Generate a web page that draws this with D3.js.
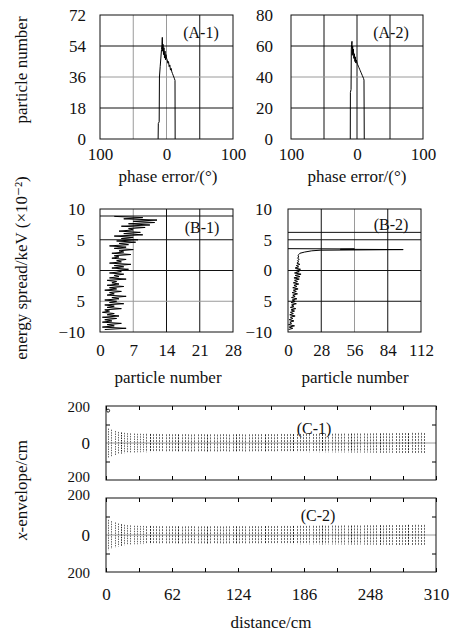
<!DOCTYPE html>
<html>
<head>
<meta charset="utf-8">
<script src="https://cdn.jsdelivr.net/npm/d3@7"></script>
<style>
  body { margin: 0; background: #fff; }
  svg, svg text { font-family: "Liberation Serif", "Times New Roman", "DejaVu Serif", serif; }
  svg text { fill: #111; }
</style>
</head>
<body>
<div id="chart"></div>
<script>
// ---- data ----
// (A) phase histograms
var a1Phase = [-12.6, -12.3, -11, -10.6, -9.5, -8.5, -7.5, -6.8, -6.3, -5.8, -5.2, -4.5, -3.8, -3, -2.2, -1.5, -0.8, 0, 1, 2, 3, 4, 5, 6, 7, 8, 9, 10, 11, 12, 12.8, 13];
var a1Count = [0, 9, 10, 36, 42, 47, 52, 55, 59, 51, 55, 49, 53, 47, 51, 46, 49, 47, 46, 44, 45, 42, 43, 40, 41, 39, 38, 37, 36, 35, 34, 0];
var a2Phase = [-10.2, -10, -9, -8.6, -8.2, -7.6, -7.2, -6.6, -6, -5.4, -4.8, -4, -3.2, -2.5, -1.8, -1, 0, 1, 2, 3, 4, 5, 6, 7, 8, 9, 10, 10.6, 11];
var a2Count = [0, 30, 32, 58, 61, 63, 54, 60, 55, 58, 52, 55, 50, 53, 49, 51, 49, 48, 47, 46, 45, 44, 43, 42, 41, 40, 39, 38, 0];

// (B) energy histograms
var b1Energy = [-9.6, -9.4, -9.2, -9.0, -8.8, -8.6, -8.4, -8.2, -8.0, -7.8,
  -7.6, -7.4, -7.2, -7.0, -6.8, -6.6, -6.4, -6.2, -6.0, -5.8,
  -5.6, -5.4, -5.2, -5.0, -4.8, -4.6, -4.4, -4.2, -4.0, -3.8,
  -3.6, -3.4, -3.2, -3.0, -2.8, -2.6, -2.4, -2.2, -2.0, -1.8,
  -1.6, -1.4, -1.2, -1.0, -0.8, -0.6, -0.4, -0.2, 0.0, 0.2,
  0.4, 0.6, 0.8, 1.0, 1.2, 1.4, 1.6, 1.8, 2.0, 2.2,
  2.4, 2.6, 2.8, 3.0, 3.2, 3.4, 3.6, 3.8, 4.0, 4.2,
  4.4, 4.6, 4.8, 5.0, 5.2, 5.4, 5.6, 5.8, 6.0, 6.2,
  6.4, 6.6, 6.8, 7.0, 7.2, 7.4, 7.6, 7.8, 8.0, 8.2,
  8.4, 8.6, 8.8];
var b1Count = [1, 5.5, 0.5, 3, 1.5, 4.5, 0.5, 2.5, 1, 3.5,
  0.5, 4, 1.5, 3, 0.5, 2, 1, 4.5, 1.5, 3,
  1, 5, 2, 3.5, 1, 4, 2.5, 5.5, 1.5, 3,
  2, 4.5, 1, 3.5, 2, 5, 1.5, 4, 2.5, 3.5,
  1.5, 5.5, 2, 4, 3, 5, 2, 4.5, 3.5, 6,
  2.5, 5, 3, 6.5, 2, 4.5, 3.5, 5.5, 2.5, 4,
  3, 6.5, 2.5, 5, 4, 7, 3, 5.5, 2, 6,
  4, 7.5, 3.5, 8, 4.5, 7, 3, 9, 5, 8.5,
  4, 7, 6, 9.5, 4.5, 10.5, 6, 11.5, 7, 12,
  5, 9, 3];
var b2Energy = [-9.6, -9.4, -9.2, -9.0, -8.8, -8.6, -8.4, -8.2, -8.0, -7.8,
  -7.6, -7.4, -7.2, -7.0, -6.8, -6.6, -6.4, -6.2, -6.0, -5.8,
  -5.6, -5.4, -5.2, -5.0, -4.8, -4.6, -4.4, -4.2, -4.0, -3.8,
  -3.6, -3.4, -3.2, -3.0, -2.8, -2.6, -2.4, -2.2, -2.0, -1.8,
  -1.6, -1.4, -1.2, -1.0, -0.8, -0.6, -0.4, -0.2, 0.0, 0.2,
  0.4, 0.6, 0.8, 1.0, 1.2, 1.4, 1.6, 1.8, 2.0, 2.2,
  2.4, 2.6, 2.8, 3.0, 3.2, 3.3, 3.4, 3.45, 3.5, 3.55];
var b2Count = [0.5, 4, 1, 5.5, 0.5, 3, 1.5, 5, 1, 4,
  2, 6, 1.5, 4.5, 2, 5.5, 2.5, 6.5, 2, 5,
  3, 7, 2.5, 6, 3.5, 7.5, 3, 6, 4, 8,
  3.5, 7, 4.5, 8.5, 4, 7.5, 5, 9, 4.5, 8,
  5.5, 9.5, 5, 10, 6, 11, 5.5, 9.5, 6.5, 10.5,
  6, 9, 7, 10, 7.5, 9, 8, 9.5, 8, 9,
  8.5, 9, 10, 14, 20, 27, 97, 44, 56, 0];
var b1Mark = [8.86];
var b2Mark = [6.2];

// (C) x-envelope along the line
var cDist = [2, 5, 8, 11, 14, 17, 20, 23, 26, 29, 32, 35, 38, 41, 44, 47, 50, 53, 56, 59,
  62, 65, 68, 71, 74, 77, 80, 83, 86, 89, 92, 95, 98, 101, 104, 107, 110, 113, 116, 119,
  122, 125, 128, 131, 134, 137, 140, 143, 146, 149, 152, 155, 158, 161, 164, 167, 170, 173, 176, 179,
  182, 185, 188, 191, 194, 197, 200, 203, 206, 209, 212, 215, 218, 221, 224, 227, 230, 233, 236, 239,
  242, 245, 248, 251, 254, 257, 260, 263, 266, 269, 272, 275, 278, 281, 284, 287, 290, 293, 296, 299];
var c1Env = [78, 72, 65, 60, 57, 55, 53, 52, 51, 50, 50, 49, 50, 49, 48, 49, 48, 48, 47, 48,
  47, 48, 47, 47, 48, 47, 46, 47, 47, 48, 47, 46, 47, 47, 46, 47, 48, 47, 46, 47,
  47, 48, 47, 46, 47, 47, 48, 47, 48, 47, 48, 48, 47, 48, 49, 48, 48, 49, 48, 49,
  49, 48, 49, 50, 49, 49, 50, 49, 50, 50, 50, 51, 50, 50, 51, 50, 51, 51, 52, 51,
  52, 51, 52, 52, 53, 52, 53, 53, 52, 53, 54, 53, 54, 54, 53, 55, 54, 55, 55, 54];
var c2Env = [82, 75, 68, 62, 58, 55, 53, 52, 50, 50, 49, 49, 48, 49, 48, 48, 47, 48, 47, 47,
  48, 47, 47, 46, 47, 47, 48, 47, 46, 47, 47, 46, 47, 48, 47, 47, 46, 47, 47, 48,
  47, 47, 48, 47, 47, 48, 48, 47, 48, 48, 49, 48, 48, 49, 48, 49, 49, 48, 49, 49,
  50, 49, 49, 50, 50, 49, 50, 51, 50, 50, 51, 51, 50, 51, 52, 51, 51, 52, 52, 51,
  52, 53, 52, 52, 53, 53, 52, 53, 54, 53, 54, 54, 53, 54, 55, 54, 55, 55, 54, 55];
var c1MarkDist = [2];
var c1MarkVal = [175];

// tick labels (as printed, minus signs mostly dropped)
var aXTicks = [-100, 0, 100];
var aXLabels = ["100", "0", "100"];
var a1YTicks = [0, 18, 36, 54, 72];
var a2YTicks = [0, 20, 40, 60, 80];
var bYTicks = [10, 5, 0, -5, -10];
var bYLabels = ["10", "5", "0", "5", "\u221210"];
var b1XTicks = [0, 7, 14, 21, 28];
var b2XTicks = [0, 28, 56, 84, 112];
var cYTicks = [200, 0, -200];
var cYLabels = ["200", "0", "200"];
var cXTicks = [0, 62, 124, 186, 248, 310];
var cXMinor = [0, 31, 62, 93, 124, 155, 186, 217, 248, 279, 310];

// ---- drawing ----
var W = 454, H = 633;
var FONT = '"Liberation Serif", "Times New Roman", "DejaVu Serif", serif';
var svg = d3.select("#chart").append("svg")
  .attr("width", W)
  .attr("height", H)
  .style("font-family", FONT);

var DARK = "#111", GRAY = "#9a9a9a";

function makePanel(box, xDom, yDom) {
  var x = d3.scaleLinear().domain(xDom).range([box.x0, box.x1]);
  var y = d3.scaleLinear().domain(yDom).range([box.y1, box.y0]);
  var g = svg.append("g");
  return { x: x, y: y, g: g, box: box };
}

function grid(p, xs, xCols, ys, yCols) {
  xs.forEach(function(v, i) {
    p.g.append("line")
      .attr("x1", p.x(v)).attr("x2", p.x(v))
      .attr("y1", p.box.y0).attr("y2", p.box.y1)
      .attr("stroke", xCols[i]).attr("stroke-width", 1);
  });
  ys.forEach(function(v, i) {
    p.g.append("line")
      .attr("x1", p.box.x0).attr("x2", p.box.x1)
      .attr("y1", p.y(v)).attr("y2", p.y(v))
      .attr("stroke", yCols[i]).attr("stroke-width", 1);
  });
}

function frame(p) {
  p.g.append("rect")
    .attr("x", p.box.x0).attr("y", p.box.y0)
    .attr("width", p.box.x1 - p.box.x0)
    .attr("height", p.box.y1 - p.box.y0)
    .attr("fill", "none").attr("stroke", DARK).attr("stroke-width", 1);
}

function styleAxis(sel, size) {
  sel.select(".domain").remove();
  sel.attr("font-family", FONT).attr("font-size", size);
  sel.selectAll("text").style("font-family", FONT).style("font-size", size + "px");
}

function yLabels(p, ticks, labels, pad) {
  var ax = p.g.append("g")
    .attr("transform", "translate(" + p.box.x0 + ",0)")
    .call(d3.axisLeft(p.y).tickValues(ticks)
      .tickFormat(function(d, i) { return labels[i]; })
      .tickSize(0).tickPadding(pad));
  styleAxis(ax, 17);
  return ax;
}

function xLabels(p, ticks, labels, pad) {
  var ax = p.g.append("g")
    .attr("transform", "translate(0," + p.box.y1 + ")")
    .call(d3.axisBottom(p.x).tickValues(ticks)
      .tickFormat(function(d, i) { return labels[i]; })
      .tickSize(0).tickPadding(pad));
  styleAxis(ax, 17);
}

function tag(p, txt, cx, cy) {
  p.g.append("text")
    .attr("x", cx).attr("y", cy)
    .attr("text-anchor", "middle")
    .style("font-size", "16px")
    .text(txt);
}

function histLine(p, xs, ys, horizontal) {
  var pts = xs.map(function(v, i) { return [v, ys[i]]; });
  var line = d3.line()
    .x(function(d) { return horizontal ? p.x(d[1]) : p.x(d[0]); })
    .y(function(d) { return horizontal ? p.y(d[0]) : p.y(d[1]); });
  p.g.append("path")
    .datum(pts)
    .attr("fill", "none")
    .attr("stroke", "#000")
    .attr("stroke-width", 1)
    .attr("d", line);
}

// A-1
var pA1 = makePanel({ x0: 100, x1: 233, y0: 15, y1: 139 }, [-100, 100], [0, 72]);
grid(pA1, [-50, 0, 50], [GRAY, GRAY, DARK], [18, 36, 54], [DARK, GRAY, DARK]);
histLine(pA1, a1Phase, a1Count, false);
frame(pA1);
yLabels(pA1, a1YTicks, a1YTicks.map(String), 14);
xLabels(pA1, aXTicks, aXLabels, 9);
tag(pA1, "(A-1)", 201, 38);

// A-2
var pA2 = makePanel({ x0: 291, x1: 423, y0: 15, y1: 139 }, [-100, 100], [0, 80]);
grid(pA2, [-50, 0, 50], [DARK, DARK, DARK], [20, 40, 60], [DARK, GRAY, DARK]);
histLine(pA2, a2Phase, a2Count, false);
frame(pA2);
yLabels(pA2, a2YTicks, a2YTicks.map(String), 18);
xLabels(pA2, aXTicks, aXLabels, 9);
tag(pA2, "(A-2)", 391, 38);

// B-1
var pB1 = makePanel({ x0: 100, x1: 233, y0: 209, y1: 332 }, [0, 28], [-10, 10]);
grid(pB1, [7, 14, 21], [GRAY, DARK, DARK], [5, 0, -5], [DARK, DARK, GRAY]);
grid(pB1, [], [], b1Mark, [DARK]);
histLine(pB1, b1Energy, b1Count, true);
frame(pB1);
yLabels(pB1, bYTicks, bYLabels, 15);
xLabels(pB1, b1XTicks, b1XTicks.map(String), 12);
tag(pB1, "(B-1)", 202, 233);

// B-2
var pB2 = makePanel({ x0: 288, x1: 421, y0: 209, y1: 332 }, [0, 112], [-10, 10]);
grid(pB2, [28, 56, 84], [DARK, GRAY, DARK], [5, 0, -5], [DARK, DARK, DARK]);
grid(pB2, [], [], b2Mark, [DARK]);
histLine(pB2, b2Energy, b2Count, true);
frame(pB2);
yLabels(pB2, bYTicks, bYLabels, 16);
xLabels(pB2, b2XTicks, b2XTicks.map(String), 12);
tag(pB2, "(B-2)", 391, 230);

// C panels
function envPanel(box, env) {
  var p = makePanel(box, [0, 310], [-200, 200]);
  // zero line
  p.g.append("line")
    .attr("x1", p.box.x0).attr("x2", p.box.x1)
    .attr("y1", p.y(0)).attr("y2", p.y(0))
    .attr("stroke", GRAY).attr("stroke-width", 1);
  // envelope bars
  p.g.selectAll("line.env")
    .data(cDist)
    .enter().append("line")
    .attr("class", "env")
    .attr("x1", function(d) { return Math.round(p.x(d)) + 0.5; })
    .attr("x2", function(d) { return Math.round(p.x(d)) + 0.5; })
    .attr("y1", function(d, i) { return p.y(env[i]); })
    .attr("y2", function(d, i) { return p.y(-env[i]); })
    .attr("stroke", function(d, i) { return i % 9 === 4 ? "#222" : "#666"; })
    .attr("stroke-width", 1)
    .attr("stroke-dasharray", function(d, i) { return i < 12 ? "1.5,1" : "2,1"; });
  // inner ticks
  var top = p.g.append("g").attr("transform", "translate(0," + p.box.y0 + ")")
    .call(d3.axisTop(p.x).tickValues(cXMinor).tickSize(-4).tickFormat(""));
  var bot = p.g.append("g").attr("transform", "translate(0," + p.box.y1 + ")")
    .call(d3.axisBottom(p.x).tickValues(cXMinor).tickSize(-4).tickFormat(""));
  var lft = p.g.append("g").attr("transform", "translate(" + p.box.x0 + ",0)")
    .call(d3.axisLeft(p.y).tickValues([100, -100]).tickSize(-4).tickFormat(""));
  var rgt = p.g.append("g").attr("transform", "translate(" + p.box.x1 + ",0)")
    .call(d3.axisRight(p.y).tickValues([100, -100]).tickSize(-4).tickFormat(""));
  [top, bot, lft, rgt].forEach(function(a) { a.select(".domain").remove(); });
  frame(p);
  return p;
}

function edgeLabel(p, v, txt, dy) {
  p.g.append("text")
    .attr("x", p.box.x0 - 16).attr("y", p.y(v) + dy)
    .attr("text-anchor", "end")
    .style("font-size", "15px")
    .text(txt);
}

var pC1 = envPanel({ x0: 106, x1: 436, y0: 406, y1: 480 }, c1Env);
pC1.g.selectAll("circle")
  .data(c1MarkDist)
  .enter().append("circle")
  .attr("cx", function(d) { return pC1.x(d); })
  .attr("cy", function(d, i) { return pC1.y(c1MarkVal[i]); })
  .attr("r", 1.5)
  .attr("fill", "none").attr("stroke", "#222");
yLabels(pC1, [0], ["0"], 16);
edgeLabel(pC1, 200, cYLabels[0], 6);
edgeLabel(pC1, -200, cYLabels[2], 2);
tag(pC1, "(C-1)", 314, 434);

var pC2 = envPanel({ x0: 106, x1: 436, y0: 498, y1: 572 }, c2Env);
yLabels(pC2, [0], ["0"], 16);
edgeLabel(pC2, 200, cYLabels[0], 2);
edgeLabel(pC2, -200, cYLabels[2], 6);
xLabels(pC2, cXTicks, cXTicks.map(String), 16);
tag(pC2, "(C-2)", 318, 521);

// axis titles
function title(txt, x, y, rot) {
  var t = svg.append("text")
    .attr("text-anchor", "middle")
    .attr("transform", "translate(" + x + "," + y + ")" + (rot ? " rotate(-90)" : ""))
    .style("font-size", "17px");
  t.text(txt);
  return t;
}
title("phase error/(\u00b0)", 168, 182, false);
title("phase error/(\u00b0)", 357, 182, false);
title("particle number", 168, 383, false);
title("particle number", 355, 383, false);
title("distance/cm", 271, 628, false);
title("particle number", 27, 70, true);
title("energy spread/keV (\u00d710\u207b\u00b2)", 27, 268, true);
var xe = svg.append("text")
  .attr("text-anchor", "middle")
  .attr("transform", "translate(27,490) rotate(-90)")
  .style("font-size", "17px");
xe.append("tspan").style("font-style", "italic").text("x");
xe.append("tspan").text("-envelope/cm");
</script>
</body>
</html>
